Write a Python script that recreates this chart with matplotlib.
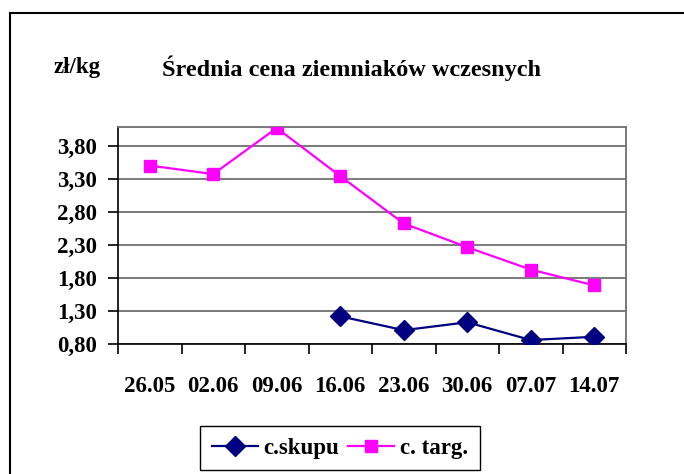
import numpy as np
import matplotlib
matplotlib.use("Agg")
import matplotlib.pyplot as plt
from matplotlib.lines import Line2D

plt.rcParams['font.family'] = ['Liberation Serif', 'DejaVu Serif']
plt.rcParams['font.weight'] = 'bold'

categories = ["26.05", "02.06", "09.06", "16.06", "23.06", "30.06", "07.07", "14.07"]
c_skupu = [np.nan, np.nan, np.nan, 1.22, 1.01, 1.13, 0.86, 0.91]
c_targ = [3.51, 3.38, 4.08, 3.35, 2.63, 2.27, 1.93, 1.69]
yticks = [0.80, 1.30, 1.80, 2.30, 2.80, 3.30, 3.80]
ytick_labels = ["0,80", "1,30", "1,80", "2,30", "2,80", "3,30", "3,80"]

W, H = 684, 474
FS = 16.5
fig = plt.figure(figsize=(W / 100, H / 100), dpi=100)
ax = fig.add_axes([118 / W, 1 - 344 / H, (626 - 118) / W, (344 - 126.7) / H])

x = np.arange(len(categories))
ax.plot(x, c_skupu, color='#000080', lw=1.6, marker='D', ms=10,
        mec='#000080', mfc='#000080', label='c.skupu', zorder=3)
ax.plot(x, c_targ, color='#FF00FF', lw=1.6, marker='s', ms=9,
        mec='#FF00FF', mfc='#FF00FF', label='c. targ.', zorder=3)

ax.set_xlim(-0.5, len(categories) - 0.5)
ax.set_ylim(0.80, 4.10)
ax.set_yticks(yticks)
ax.set_yticklabels(ytick_labels)
ax.yaxis.grid(True, color='#707070', lw=1.3)
ax.set_axisbelow(True)

# category ticks between categories, labels at centres
ax.set_xticks(np.arange(-0.5, len(categories), 1.0))
ax.set_xticklabels([])
ax.set_xticks(x, minor=True)
ax.set_xticklabels(categories, minor=True)
ax.tick_params(axis='x', which='minor', length=0, pad=23, labelsize=FS)
ax.tick_params(axis='x', which='major', length=7, width=1.2, color='black', direction='out')
ax.tick_params(axis='y', length=7, width=1.2, direction='out', labelsize=FS, pad=8)

for lbl in ax.get_yticklabels() + ax.get_xticklabels(minor=True):
    lbl.set_fontweight('bold')

ax.spines['left'].set_color('black')
ax.spines['bottom'].set_color('black')
ax.spines['left'].set_linewidth(1.2)
ax.spines['bottom'].set_linewidth(1.2)
ax.spines['right'].set_color('#707070')
ax.spines['top'].set_color('#707070')
ax.spines['right'].set_linewidth(1.3)
ax.spines['top'].set_linewidth(1.3)

fig.text(54 / W, 1 - 68 / H, "zł/kg", fontsize=FS, fontweight='bold', va='center', ha='left')
fig.text(352 / W, 1 - 68 / H, "Średnia cena ziemniaków wczesnych", fontsize=17.5,
         fontweight='bold', va='center', ha='center')

leg = fig.legend(loc='center', bbox_to_anchor=(340 / W, 1 - 448 / H), ncol=2,
                 frameon=True, fancybox=False, edgecolor='black', framealpha=1,
                 prop={'size': FS, 'weight': 'bold'}, handlelength=2.0,
                 columnspacing=0.4, handletextpad=0.25, borderpad=0.5,
                 borderaxespad=0)
leg.get_frame().set_linewidth(1.0)

# outer chart border (top and left)
fig.add_artist(Line2D([10 / W, 1.0], [1 - 13 / H, 1 - 13 / H], color='black', lw=1.5,
                      transform=fig.transFigure))
fig.add_artist(Line2D([10 / W, 10 / W], [1 - 13 / H, 0], color='black', lw=1.5,
                      transform=fig.transFigure))

fig.savefig("out.png", dpi=100)
